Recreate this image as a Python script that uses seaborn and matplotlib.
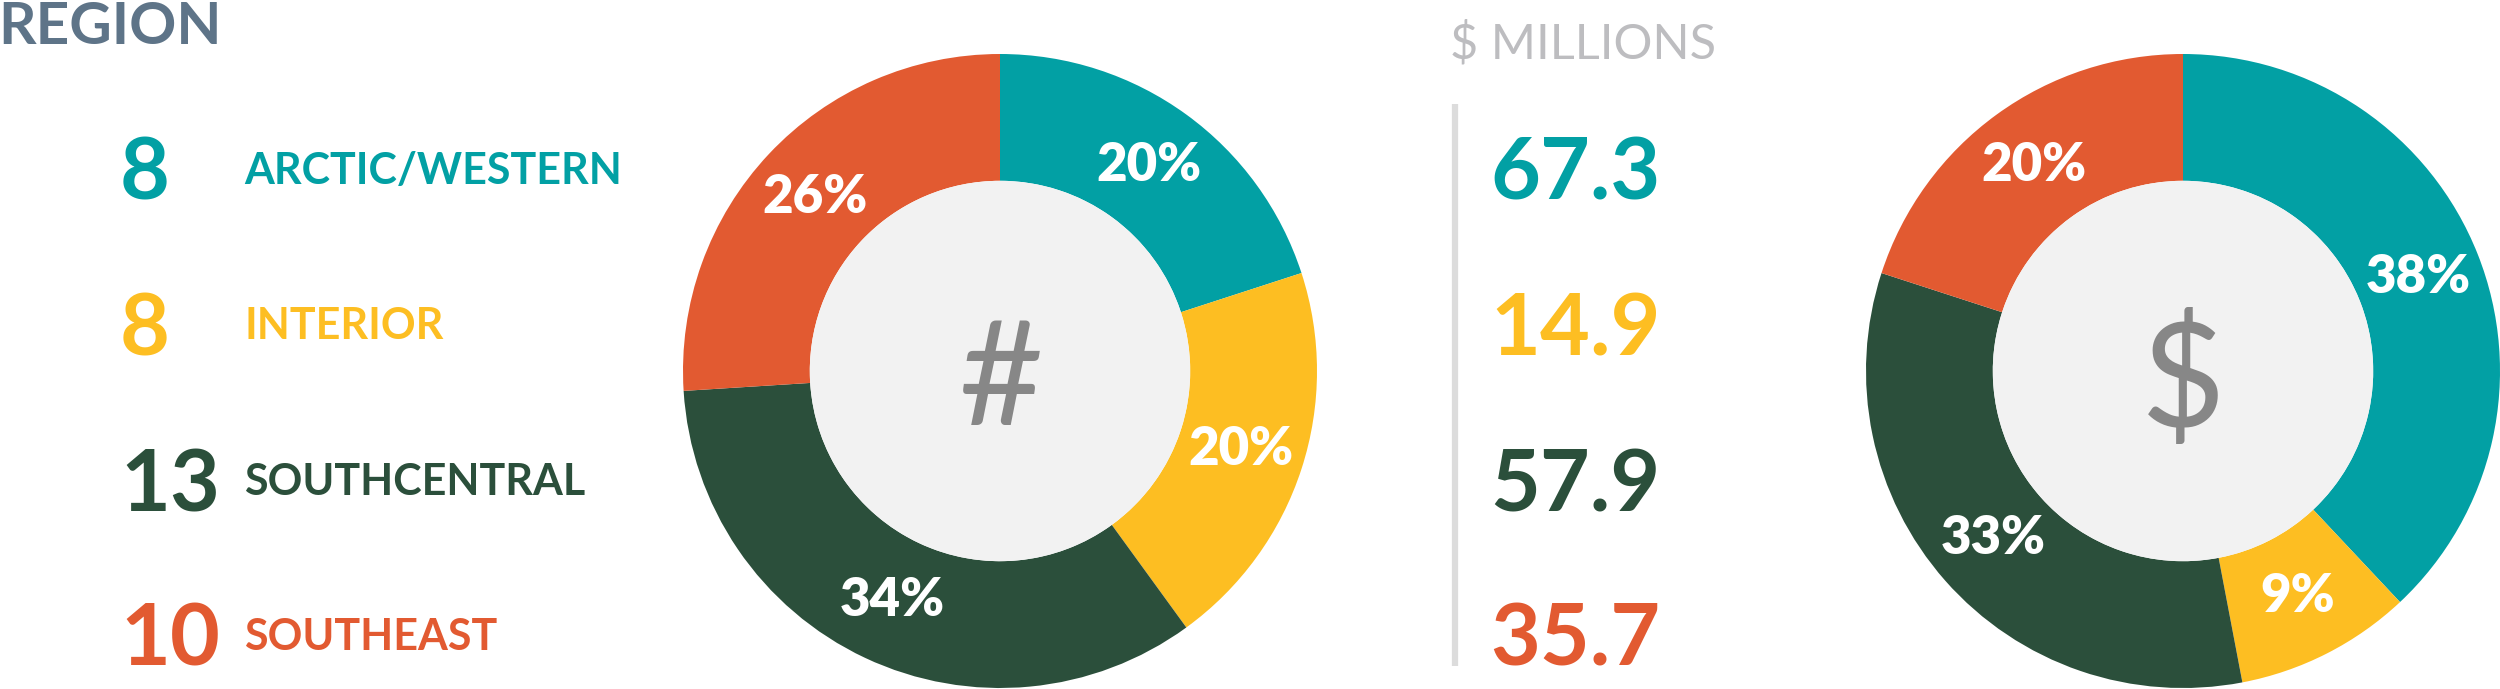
import matplotlib
matplotlib.use("Agg")
import matplotlib.pyplot as plt
from matplotlib.patches import Circle
import seaborn as sns

# Data
regions = ["ARCTIC/WESTERN", "INTERIOR", "SOUTHCENTRAL", "SOUTHEAST"]
counts = [8, 8, 13, 10]
count_pct = [20, 20, 34, 26]
millions = [67.3, 14.9, 57.9, 35.7]
millions_pct = [38, 9, 33, 20]

sns.set_theme(style="white")
plt.rcParams["font.family"] = ["Lato", "DejaVu Sans"]

palette = sns.color_palette(["#02A0A4", "#FDBE22", "#2B4F3B", "#E25A31"])
TITLE_C = "#5E7488"
GREY_TXT = "#BDBDC0"
RULE_C = "#DCDCDC"
HOLE_C = "#F2F2F2"
SYMBOL_C = "#878787"

W, H = 2500, 689
fig = plt.figure(figsize=(W / 100, H / 100), dpi=100)
fig.patch.set_facecolor("white")

# Canvas axes in pixel units for the text columns
bg = fig.add_axes([0, 0, 1, 1])
bg.set_xlim(0, W)
bg.set_ylim(H, 0)
bg.axis("off")

row_base = [200, 355, 511, 666]

bg.text(-2, 44, "REGION", fontsize=42, fontweight="bold", color=TITLE_C,
        ha="left", va="baseline")
for i, (name, n) in enumerate(zip(regions, counts)):
    bg.text(120, row_base[i], f"{n}", fontsize=62, fontweight="bold",
            color=palette[i], ha="left", va="baseline")
    bg.text(244, row_base[i] - 16, name, fontsize=31, fontweight="bold",
            color=palette[i], ha="left", va="baseline")

bg.text(1450, 59, "$ MILLIONS", fontsize=35, color=GREY_TXT,
        ha="left", va="baseline")
bg.plot([1455, 1455], [104, 666], color=RULE_C, lw=4.5, solid_capstyle="butt")
for i, v in enumerate(millions):
    bg.text(1490, row_base[i], f"{v:.1f}", fontsize=62, fontweight="bold",
            color=palette[i], ha="left", va="baseline")


def donut(cx, cy, r, values, symbol):
    ax = fig.add_axes([(cx - r) / W, (H - cy - r) / H, 2 * r / W, 2 * r / H])
    ax.pie(values, colors=palette, startangle=90, counterclock=False,
           radius=1, wedgeprops=dict(width=0.4, edgecolor="none", linewidth=0),
           autopct=lambda p: f"{p:.0f}%", pctdistance=0.8,
           textprops=dict(color="white", fontsize=38, fontweight="heavy"))
    ax.add_patch(Circle((0, 0), 0.6, facecolor=HOLE_C, edgecolor="none"))
    ax.text(0, 0, symbol, fontsize=105, color=SYMBOL_C, ha="center",
            va="center_baseline")
    ax.set_xlim(-1, 1)
    ax.set_ylim(-1, 1)
    ax.set_aspect("equal")
    ax.axis("off")
    return ax


donut(1000, 371, 317, count_pct, "#")
donut(2183, 371, 317, millions_pct, "$")

fig.savefig("out.png", dpi=100, facecolor="white")
